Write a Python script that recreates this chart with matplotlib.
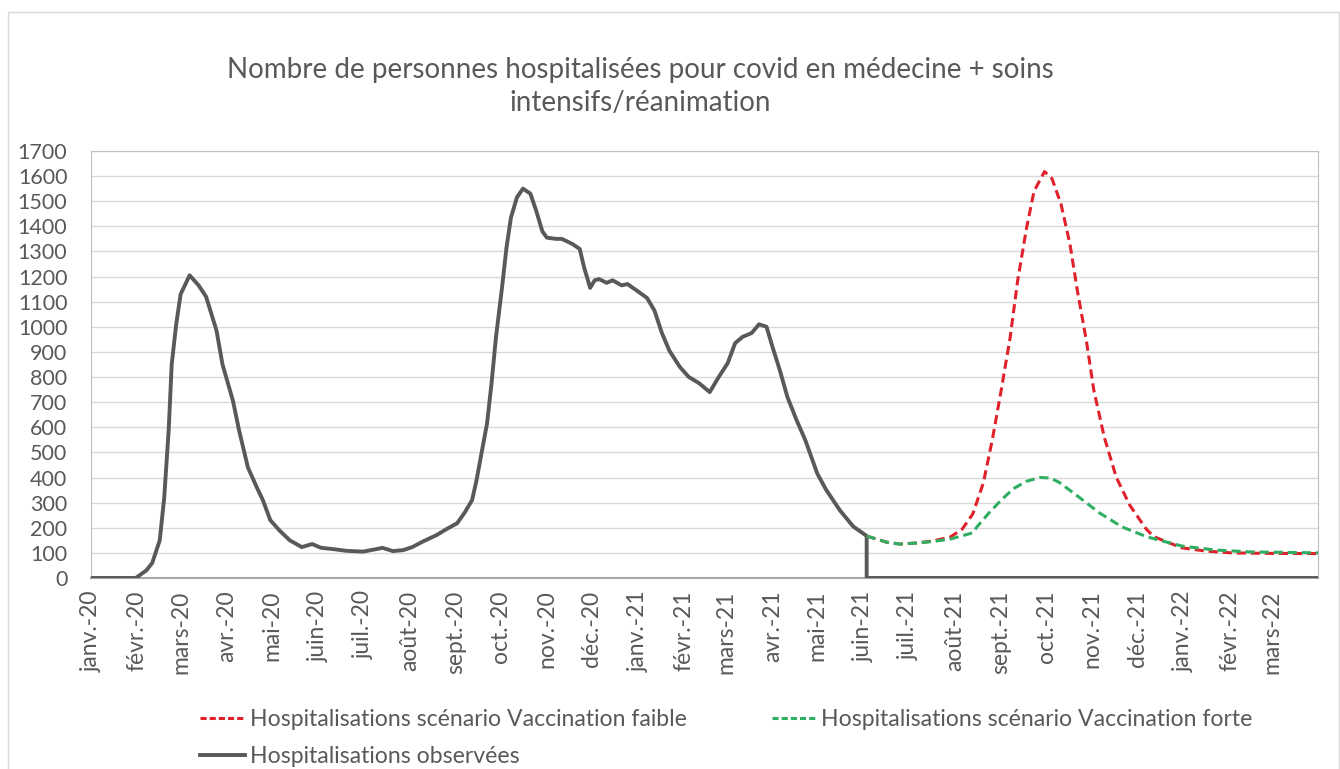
import matplotlib.pyplot as plt
import matplotlib.dates as mdates
import pandas as pd
from matplotlib.lines import Line2D
from matplotlib.patches import Rectangle

plt.rcParams['font.family'] = ['Lato', 'DejaVu Sans']

# month labels of the x axis (one per month start)
month_labels = ["janv.-20", "févr.-20", "mars-20", "avr.-20", "mai-20", "juin-20",
                "juil.-20", "août-20", "sept.-20", "oct.-20", "nov.-20", "déc.-20",
                "janv.-21", "févr.-21", "mars-21", "avr.-21", "mai-21", "juin-21",
                "juil.-21", "août-21", "sept.-21", "oct.-21", "nov.-21", "déc.-21",
                "janv.-22", "févr.-22", "mars-22"]

obs_dates = ["2020-01-01", "2020-01-31", "2020-02-07", "2020-02-11", "2020-02-16", "2020-02-19",
             "2020-02-22", "2020-02-24", "2020-02-27", "2020-03-01", "2020-03-07", "2020-03-13",
             "2020-03-18", "2020-03-25", "2020-03-29", "2020-04-05", "2020-04-09", "2020-04-15",
             "2020-04-21", "2020-04-25", "2020-04-30", "2020-05-06", "2020-05-13", "2020-05-21",
             "2020-05-28", "2020-06-03", "2020-06-11", "2020-06-20", "2020-07-01", "2020-07-10",
             "2020-07-14", "2020-07-21", "2020-07-28", "2020-08-03", "2020-08-10", "2020-08-19",
             "2020-08-26", "2020-09-02", "2020-09-07", "2020-09-12", "2020-09-15", "2020-09-17",
             "2020-09-22", "2020-09-25", "2020-09-28", "2020-10-02", "2020-10-05", "2020-10-08",
             "2020-10-12", "2020-10-16", "2020-10-21", "2020-10-25", "2020-10-29", "2020-11-01",
             "2020-11-07", "2020-11-11", "2020-11-18", "2020-11-23", "2020-11-26", "2020-11-30",
             "2020-12-03", "2020-12-06", "2020-12-11", "2020-12-15", "2020-12-21", "2020-12-25",
             "2020-12-31", "2021-01-07", "2021-01-12", "2021-01-17", "2021-01-22", "2021-01-29",
             "2021-02-04", "2021-02-11", "2021-02-18", "2021-02-24", "2021-03-02", "2021-03-07",
             "2021-03-12", "2021-03-18", "2021-03-23", "2021-03-28", "2021-04-01", "2021-04-06",
             "2021-04-11", "2021-04-17", "2021-04-23", "2021-05-01", "2021-05-07", "2021-05-16",
             "2021-05-25", "2021-05-31", "2021-06-03", "2021-06-03", "2022-04-01"]
obs_values = [0, 0, 30, 60, 150, 320,
              590, 850, 1010, 1130, 1205, 1165,
              1120, 985, 850, 705, 590, 440,
              360, 310, 230, 190, 150, 123,
              135, 120, 115, 108, 105, 115,
              120, 107, 111, 123, 145, 170,
              195, 218, 260, 310, 390, 455,
              615, 775, 960, 1155, 1315, 1435,
              1515, 1550, 1530, 1460, 1380, 1355,
              1350, 1350, 1330, 1310, 1235, 1155,
              1185, 1190, 1175, 1185, 1165, 1170,
              1145, 1115, 1065, 975, 905, 840,
              800, 775, 740, 800, 855, 935,
              960, 975, 1010, 1000, 920, 825,
              720, 630, 548, 415, 350, 270,
              205, 180, 167, 0, 0]

# scenario "vaccination faible"
low_dates = ["2021-06-03", "2021-06-16", "2021-06-25", "2021-07-06", "2021-07-17", "2021-07-29",
             "2021-08-06", "2021-08-13", "2021-08-20", "2021-08-26", "2021-09-01", "2021-09-07",
             "2021-09-12", "2021-09-18", "2021-09-23", "2021-09-30", "2021-10-05", "2021-10-11",
             "2021-10-17", "2021-10-22", "2021-10-28", "2021-11-02", "2021-11-09", "2021-11-17",
             "2021-11-26", "2021-12-07", "2021-12-12", "2021-12-21", "2021-12-31", "2022-01-16",
             "2022-02-02", "2022-02-26", "2022-04-01"]
low_values = [167, 143, 135, 139, 147, 163,
              195, 255, 377, 548, 747, 957,
              1183, 1394, 1540, 1618, 1590, 1489,
              1330, 1143, 945, 747, 560, 401,
              290, 195, 165, 143, 120, 107,
              100, 98, 97]

# scenario "vaccination forte"
high_dates = ["2021-06-03", "2021-06-16", "2021-06-25", "2021-07-06", "2021-07-17", "2021-07-29",
              "2021-08-06", "2021-08-13", "2021-08-16", "2021-08-24", "2021-09-01", "2021-09-09",
              "2021-09-18", "2021-09-27", "2021-10-04", "2021-10-10", "2021-10-23", "2021-11-06",
              "2021-11-21", "2021-12-07", "2021-12-16", "2021-12-31", "2022-01-23", "2022-02-14",
              "2022-04-01"]
high_values = [167, 143, 135, 139, 145, 155,
               168, 180, 205, 260, 310, 355,
               385, 400, 398, 380, 322, 258,
               203, 165, 150, 127, 111, 104,
               100]

text_color = '#595959'
obs_color = '#595959'
low_color = '#e0212b'
high_color = '#2fae62'

fig = plt.figure(figsize=(13.4, 7.69), dpi=100)
fig.patches.append(Rectangle((0.006, -0.01), 0.993, 0.995, transform=fig.transFigure,
                             fill=False, edgecolor='#d9d9d9', linewidth=1))

ax = fig.add_axes([0.0679, 0.2484, 0.9157, 0.5553])

ax.plot(pd.to_datetime(obs_dates), obs_values, color=obs_color, linewidth=2.8,
        solid_joinstyle='round', zorder=3)
ax.plot(pd.to_datetime(low_dates), low_values, color=low_color, linewidth=2.2,
        linestyle=(0, (3, 1.6)), zorder=4)
ax.plot(pd.to_datetime(high_dates), high_values, color=high_color, linewidth=2.2,
        linestyle=(0, (3, 1.6)), zorder=5)

ax.set_ylim(0, 1700)
ax.set_yticks(range(0, 1701, 100))
ax.set_xlim(pd.Timestamp("2020-01-01"), pd.Timestamp("2022-04-01"))
month_ticks = pd.date_range("2020-01-01", periods=len(month_labels), freq="MS")
ax.set_xticks(mdates.date2num(month_ticks))
ax.set_xticklabels(month_labels, rotation=90)

ax.tick_params(axis='both', length=0, colors=text_color)
ax.tick_params(axis='y', pad=17, labelsize=15.5)
ax.tick_params(axis='x', pad=9, labelsize=16.5)
ax.grid(axis='y', color='#d9d9d9', linewidth=1)
ax.set_axisbelow(True)
for side in ['left', 'right', 'top']:
    ax.spines[side].set_color('#bfbfbf')
ax.spines['bottom'].set_color('#a6a6a6')
ax.spines['bottom'].set_linewidth(1.5)

fig.text(0.478, 1 - 70 / 769, "Nombre de personnes hospitalisées pour covid en médecine + soins",
         ha='center', va='center', fontsize=20, color=text_color)
fig.text(0.478, 1 - 103 / 769, "intensifs/réanimation",
         ha='center', va='center', fontsize=20, color=text_color)

handles = [
    Line2D([], [], color=low_color, linewidth=2.2, linestyle=(0, (2, 1))),
    Line2D([], [], color=obs_color, linewidth=2.8),
    Line2D([], [], color=high_color, linewidth=2.2, linestyle=(0, (2, 1))),
]
labels = ["Hospitalisations scénario Vaccination faible",
          "Hospitalisations observées",
          "Hospitalisations scénario Vaccination forte"]
leg = fig.legend(handles, labels, ncol=2, loc='upper left',
                 bbox_to_anchor=(200 / 1340, 1 - 709 / 769), frameon=False,
                 fontsize=16.6, handlelength=1.95, handletextpad=0.2,
                 columnspacing=3.7, labelspacing=0.68, borderpad=0, borderaxespad=0)
for t in leg.get_texts():
    t.set_color(text_color)

fig.savefig("out.png", dpi=100)
